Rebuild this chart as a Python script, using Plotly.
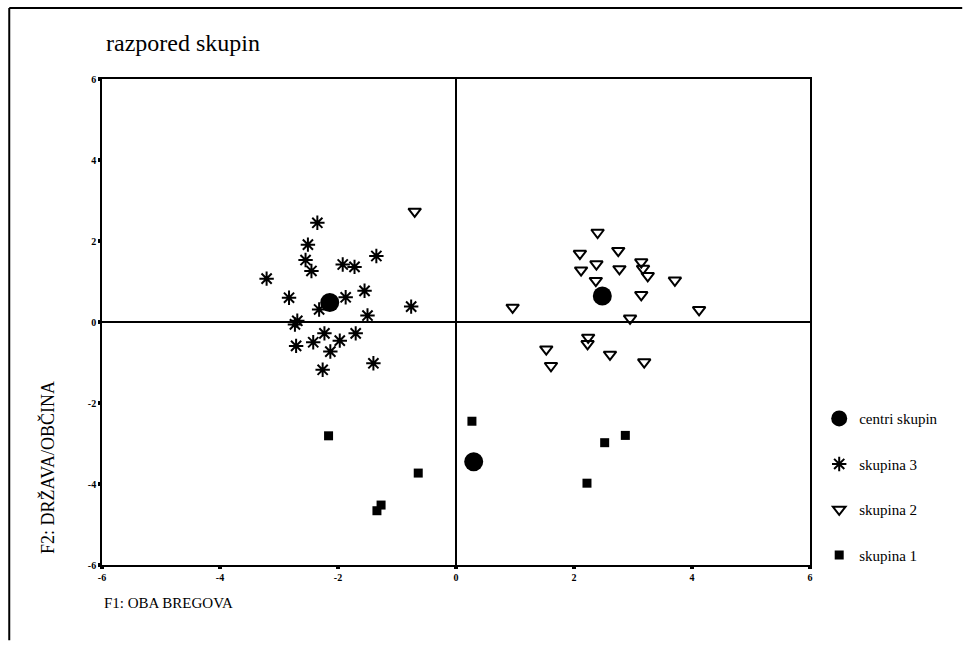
import plotly.graph_objects as go

# Cluster members (F1, F2 factor scores)
g3_x = [-2.35, -2.51, -2.55, -2.45, -3.21, -1.92, -1.72, -1.35, -2.83, -1.55, -1.87, -2.32,
        -0.76, -1.50, -2.69, -2.73, -2.23, -1.70, -2.42, -1.97, -2.71, -2.13, -1.40, -2.26]
g3_y = [2.45, 1.91, 1.53, 1.26, 1.07, 1.42, 1.36, 1.63, 0.60, 0.77, 0.61, 0.31,
        0.38, 0.16, 0.03, -0.06, -0.28, -0.28, -0.50, -0.46, -0.59, -0.73, -1.02, -1.18]

g2_x = [-0.70, 2.40, 2.10, 2.75, 2.38, 2.12, 2.77, 3.14, 3.17, 3.25, 3.71, 2.37,
        3.14, 0.96, 4.12, 2.95, 2.24, 2.23, 1.53, 2.61, 1.61, 3.19]
g2_y = [2.73, 2.21, 1.69, 1.76, 1.43, 1.28, 1.31, 1.48, 1.32, 1.14, 1.03, 1.02,
        0.67, 0.36, 0.30, 0.09, -0.38, -0.54, -0.67, -0.80, -1.08, -0.99]

g1_x = [-2.16, 0.27, -0.64, -1.27, -1.34, 2.52, 2.87, 2.22]
g1_y = [-2.81, -2.45, -3.73, -4.52, -4.66, -2.98, -2.80, -3.98]

# Cluster centres
c_x = [-2.14, 2.48, 0.30]
c_y = [0.48, 0.64, -3.45]

tick_vals = [-6, -4, -2, 0, 2, 4, 6]
tick_text = ["-6", "-4", "-2", "0", "2", "4", "6"]

SERIF = "Liberation Serif"

fig = go.Figure()
fig.add_trace(go.Scatter(
    x=c_x, y=c_y, mode="markers", name="centri skupin", legendgroup="c",
    marker=dict(symbol="circle", size=19, color="black"),
))
fig.add_trace(go.Scatter(
    x=g3_x, y=g3_y, mode="markers", name="skupina 3", legendgroup="g3",
    marker=dict(symbol="asterisk-open", size=12, color="black",
                line=dict(color="black", width=2)),
))
fig.add_trace(go.Scatter(
    x=g2_x, y=g2_y, mode="markers", name="skupina 2", legendgroup="g2",
    marker=dict(symbol="triangle-down-open", size=11, color="black",
                line=dict(color="black", width=2)),
))
fig.add_trace(go.Scatter(
    x=g1_x, y=g1_y, mode="markers", name="skupina 1", legendgroup="g1",
    marker=dict(symbol="square", size=9, color="black"),
))

axis_common = dict(
    range=[-6, 6], tickvals=tick_vals, ticktext=tick_text,
    showgrid=False, zeroline=True, zerolinecolor="black", zerolinewidth=1.6,
    showline=True, linecolor="black", linewidth=1.6, mirror=True,
    ticks="outside", ticklen=2, tickwidth=4, tickcolor="black",
    tickfont=dict(family=SERIF, size=10, color="black", weight="bold"),
)

fig.update_layout(
    width=967, height=649,
    margin=dict(l=102, r=157, t=79, b=84),
    paper_bgcolor="white", plot_bgcolor="white",
    xaxis=dict(**axis_common),
    yaxis=dict(**axis_common),
    showlegend=True,
    legend=dict(
        x=1.013, y=0.335, xanchor="left", yanchor="top",
        font=dict(family=SERIF, size=15, color="black"),
        tracegroupgap=23, itemsizing="trace", bgcolor="rgba(0,0,0,0)",
    ),
    font=dict(family=SERIF, color="black"),
)

# Title and axis labels
fig.add_annotation(
    text="razpored skupin", xref="paper", yref="paper", x=0.003, y=1.074,
    xanchor="left", yanchor="middle", showarrow=False,
    font=dict(family=SERIF, size=24, color="black"),
)
fig.add_annotation(
    text="F1: OBA BREGOVA", xref="paper", yref="paper", x=0.0, y=-0.078,
    xanchor="left", yanchor="middle", showarrow=False,
    font=dict(family=SERIF, size=15, color="black"),
)
fig.add_annotation(
    text="F2: DRŽAVA/OBČINA", xref="paper", yref="paper", x=-0.076, y=0.2,
    xanchor="center", yanchor="middle", showarrow=False, textangle=-90,
    font=dict(family=SERIF, size=18, color="black"),
)

# Outer frame (top and left edges)
fig.add_shape(type="line", xref="paper", yref="paper",
              x0=-0.131, x1=1.215, y0=1.146, y1=1.146,
              line=dict(color="black", width=2))
fig.add_shape(type="line", xref="paper", yref="paper",
              x0=-0.131, x1=-0.131, y0=1.146, y1=-0.155,
              line=dict(color="black", width=2))

fig.write_html("out.html")
